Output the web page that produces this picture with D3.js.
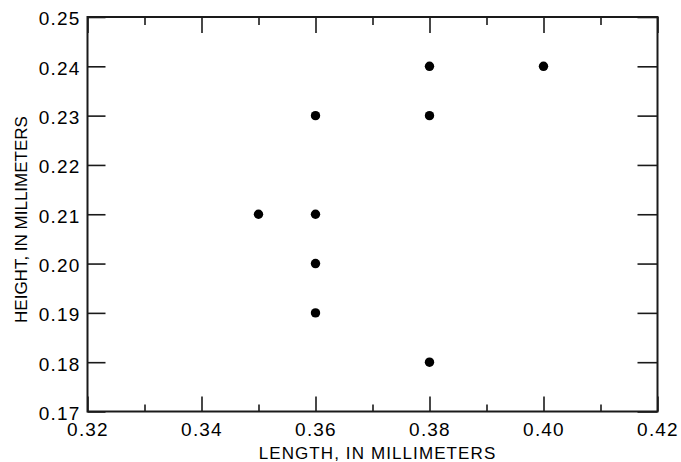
<!DOCTYPE html>
<html><head><meta charset="utf-8">
<script src="https://cdn.jsdelivr.net/npm/d3@7"></script>
<style>body{margin:0;background:#fff}svg{display:block}</style>
</head><body>
<script>
const lengths = [0.35, 0.36, 0.36, 0.36, 0.36, 0.38, 0.38, 0.38, 0.40];
const heights = [0.21, 0.23, 0.21, 0.20, 0.19, 0.24, 0.23, 0.18, 0.24];
const xMajorTicks = [0.32, 0.34, 0.36, 0.38, 0.40, 0.42];
const xMinorTicks = [0.33, 0.35, 0.37, 0.39, 0.41];
const yTicks = [0.17, 0.18, 0.19, 0.20, 0.21, 0.22, 0.23, 0.24, 0.25];
const xTitle = "LENGTH, IN MILLIMETERS";
const yTitle = "HEIGHT, IN MILLIMETERS";

const W = 681, H = 462;
const m = {l: 87.5, r: 657.5, t: 17, b: 411.5};
const svg = d3.select("body").append("svg").attr("width", W).attr("height", H);
const x = d3.scaleLinear().domain([0.32, 0.42]).range([m.l, m.r]);
const y = d3.scaleLinear().domain([0.17, 0.25]).range([m.b, m.t]);
const fmt = d3.format(".2f");
const font = "Liberation Sans, Arial, Helvetica, sans-serif";
const col = "#1a1a1a";

function style(g, size) {
  g.select(".domain").remove();
  g.selectAll(".tick line").attr("stroke", col).attr("stroke-width", 1.6);
  g.selectAll(".tick text").attr("fill", "#000").attr("font-family", font).attr("font-size", size).style("letter-spacing", "1.2px");
}

// bottom major
svg.append("g").attr("transform", `translate(0,${m.b})`)
  .call(d3.axisBottom(x).tickValues(xMajorTicks).tickFormat(fmt).tickSizeInner(-15).tickPadding(11))
  .call(g => style(g, 19));
// bottom minor
svg.append("g").attr("transform", `translate(0,${m.b})`)
  .call(d3.axisBottom(x).tickValues(xMinorTicks).tickFormat("").tickSizeInner(-7))
  .call(g => style(g, 19));
// top major / minor
svg.append("g").attr("transform", `translate(0,${m.t})`)
  .call(d3.axisTop(x).tickValues(xMajorTicks).tickFormat("").tickSizeInner(-16))
  .call(g => style(g, 19));
svg.append("g").attr("transform", `translate(0,${m.t})`)
  .call(d3.axisTop(x).tickValues(xMinorTicks).tickFormat("").tickSizeInner(-8))
  .call(g => style(g, 19));
// left
svg.append("g").attr("transform", `translate(${m.l},0)`)
  .call(d3.axisLeft(y).tickValues(yTicks).tickFormat(fmt).tickSizeInner(-18).tickPadding(7))
  .call(g => { style(g, 19); g.selectAll(".tick text").attr("dy", "0.42em"); });
// right
svg.append("g").attr("transform", `translate(${m.r},0)`)
  .call(d3.axisRight(y).tickValues(yTicks).tickFormat("").tickSizeInner(-20))
  .call(g => style(g, 19));

// frame
svg.append("rect").attr("x", m.l).attr("y", m.t).attr("width", m.r - m.l).attr("height", m.b - m.t)
  .attr("fill", "none").attr("stroke", col).attr("stroke-width", 2);

// points
svg.append("g").selectAll("circle").data(lengths).join("circle")
  .attr("cx", d => x(d)).attr("cy", (d, i) => y(heights[i])).attr("r", 4.7).attr("fill", "#000");

// titles
svg.append("text").attr("x", (258 + 497) / 2).attr("y", 459).attr("text-anchor", "middle")
  .attr("font-family", font).attr("font-size", 17).style("letter-spacing", "1.1px").text(xTitle);
svg.append("text").attr("transform", `translate(27,${(112 + 327) / 2}) rotate(-90)`).attr("text-anchor", "middle")
  .attr("font-family", font).attr("font-size", 17).text(yTitle);
</script>
</body></html>
